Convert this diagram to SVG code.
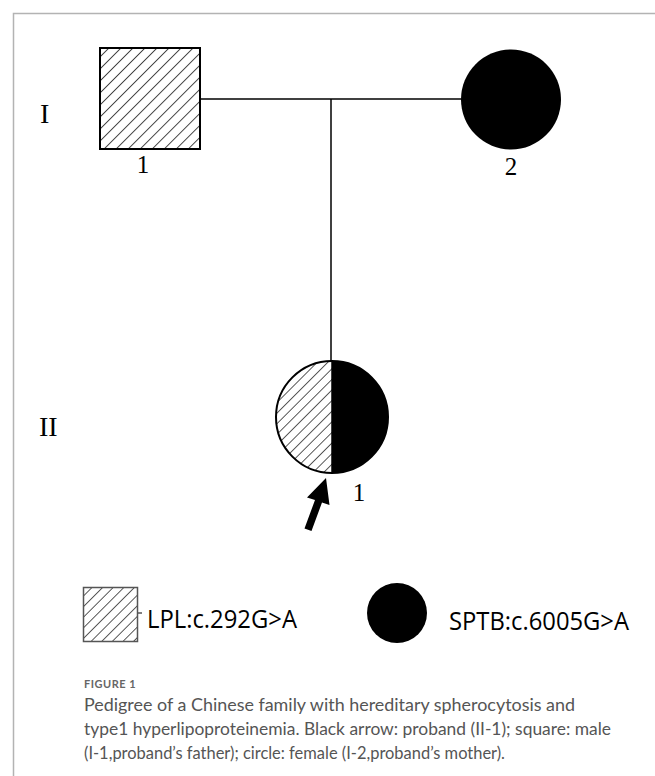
<svg xmlns="http://www.w3.org/2000/svg" width="655" height="776" viewBox="0 0 655 776">
<style>
.frame{stroke:#b3b3b3;stroke-width:1.5;fill:none}
.ln{stroke:#000;stroke-width:1.5;fill:none}
.roman{font-family:"Liberation Serif","Times New Roman",serif;font-size:28px;fill:#000}
.num{font-family:"Liberation Serif","Times New Roman",serif;font-size:25px;fill:#000;text-anchor:middle}
.leg{font-family:"Open Sans","Liberation Sans",sans-serif;font-size:25px;fill:#000}
.cap{font-family:Lato,"Open Sans",sans-serif;font-size:18px;fill:#555}
.fig{font-family:Lato,"Open Sans",sans-serif;font-size:11px;font-weight:bold;fill:#666;letter-spacing:0.5px}
</style>
<defs>
<pattern id="hatch" patternUnits="userSpaceOnUse" width="8.5" height="8.5" patternTransform="rotate(45)">
<line x1="0" y1="0" x2="0" y2="8.5" stroke="#000" stroke-width="1.4"/>
</pattern>
<pattern id="hatch2" patternUnits="userSpaceOnUse" width="7.5" height="7.5" patternTransform="rotate(45)">
<line x1="0" y1="0" x2="0" y2="7.5" stroke="#000" stroke-width="1.3"/>
</pattern>
<clipPath id="leftHalf"><rect x="270" y="355" width="62" height="125"/></clipPath>
<clipPath id="rightHalf"><rect x="332" y="355" width="62" height="125"/></clipPath>
</defs>
<rect width="655" height="776" fill="#fff"/>
<path class="frame" d="M655,13.5 H13.5 V776"/>
<text class="roman" x="40" y="123">I</text>
<text class="roman" x="39" y="436">II</text>
<g id="connectors">
<line class="ln" x1="200" y1="99" x2="461" y2="99"/>
<line class="ln" x1="331" y1="99" x2="331" y2="361"/>
</g>
<g id="I-1">
<rect x="100" y="48" width="100" height="101" fill="url(#hatch)" stroke="#000" stroke-width="2"/>
<text class="num" x="143" y="173">1</text>
</g>
<g id="I-2">
<circle cx="511" cy="99.5" r="50" fill="#000"/>
<text class="num" x="511" y="175">2</text>
</g>
<g id="II-1">
<circle cx="332" cy="417" r="56" fill="url(#hatch2)" clip-path="url(#leftHalf)"/>
<circle cx="332" cy="417" r="56" fill="#000" clip-path="url(#rightHalf)"/>
<circle cx="332" cy="417" r="56" fill="none" stroke="#000" stroke-width="2"/>
<line x1="332" y1="361" x2="332" y2="473" stroke="#000" stroke-width="1.5"/>
<text class="num" x="359" y="501">1</text>
</g>
<g id="arrow">
<polygon points="326,478 329.5,505 322,502.5 311.5,531 304.5,528.5 315,500 307,497.5" fill="#000"/>
</g>
<g id="legend-lpl">
<rect x="83.5" y="587.5" width="54" height="54" fill="url(#hatch2)" stroke="#555" stroke-width="1.5"/>
<line x1="137" y1="613" x2="142" y2="613" stroke="#555" stroke-width="1.5"/>
<text class="leg" x="147" y="628" textLength="150" lengthAdjust="spacingAndGlyphs">LPL:c.292G&gt;A</text>
</g>
<g id="legend-sptb">
<circle cx="397" cy="613" r="30" fill="#000"/>
<text class="leg" x="449" y="630" textLength="180" lengthAdjust="spacingAndGlyphs">SPTB:c.6005G&gt;A</text>
</g>
<text class="fig" x="84" y="688">FIGURE 1</text>
<text class="cap" x="84" y="711" textLength="491" lengthAdjust="spacingAndGlyphs">Pedigree of a Chinese family with hereditary spherocytosis and</text>
<text class="cap" x="84" y="735" textLength="527" lengthAdjust="spacingAndGlyphs">type1 hyperlipoproteinemia. Black arrow: proband (II-1); square: male</text>
<text class="cap" x="84" y="759" textLength="421" lengthAdjust="spacingAndGlyphs">(I-1,proband’s father); circle: female (I-2,proband’s mother).</text>
</svg>
